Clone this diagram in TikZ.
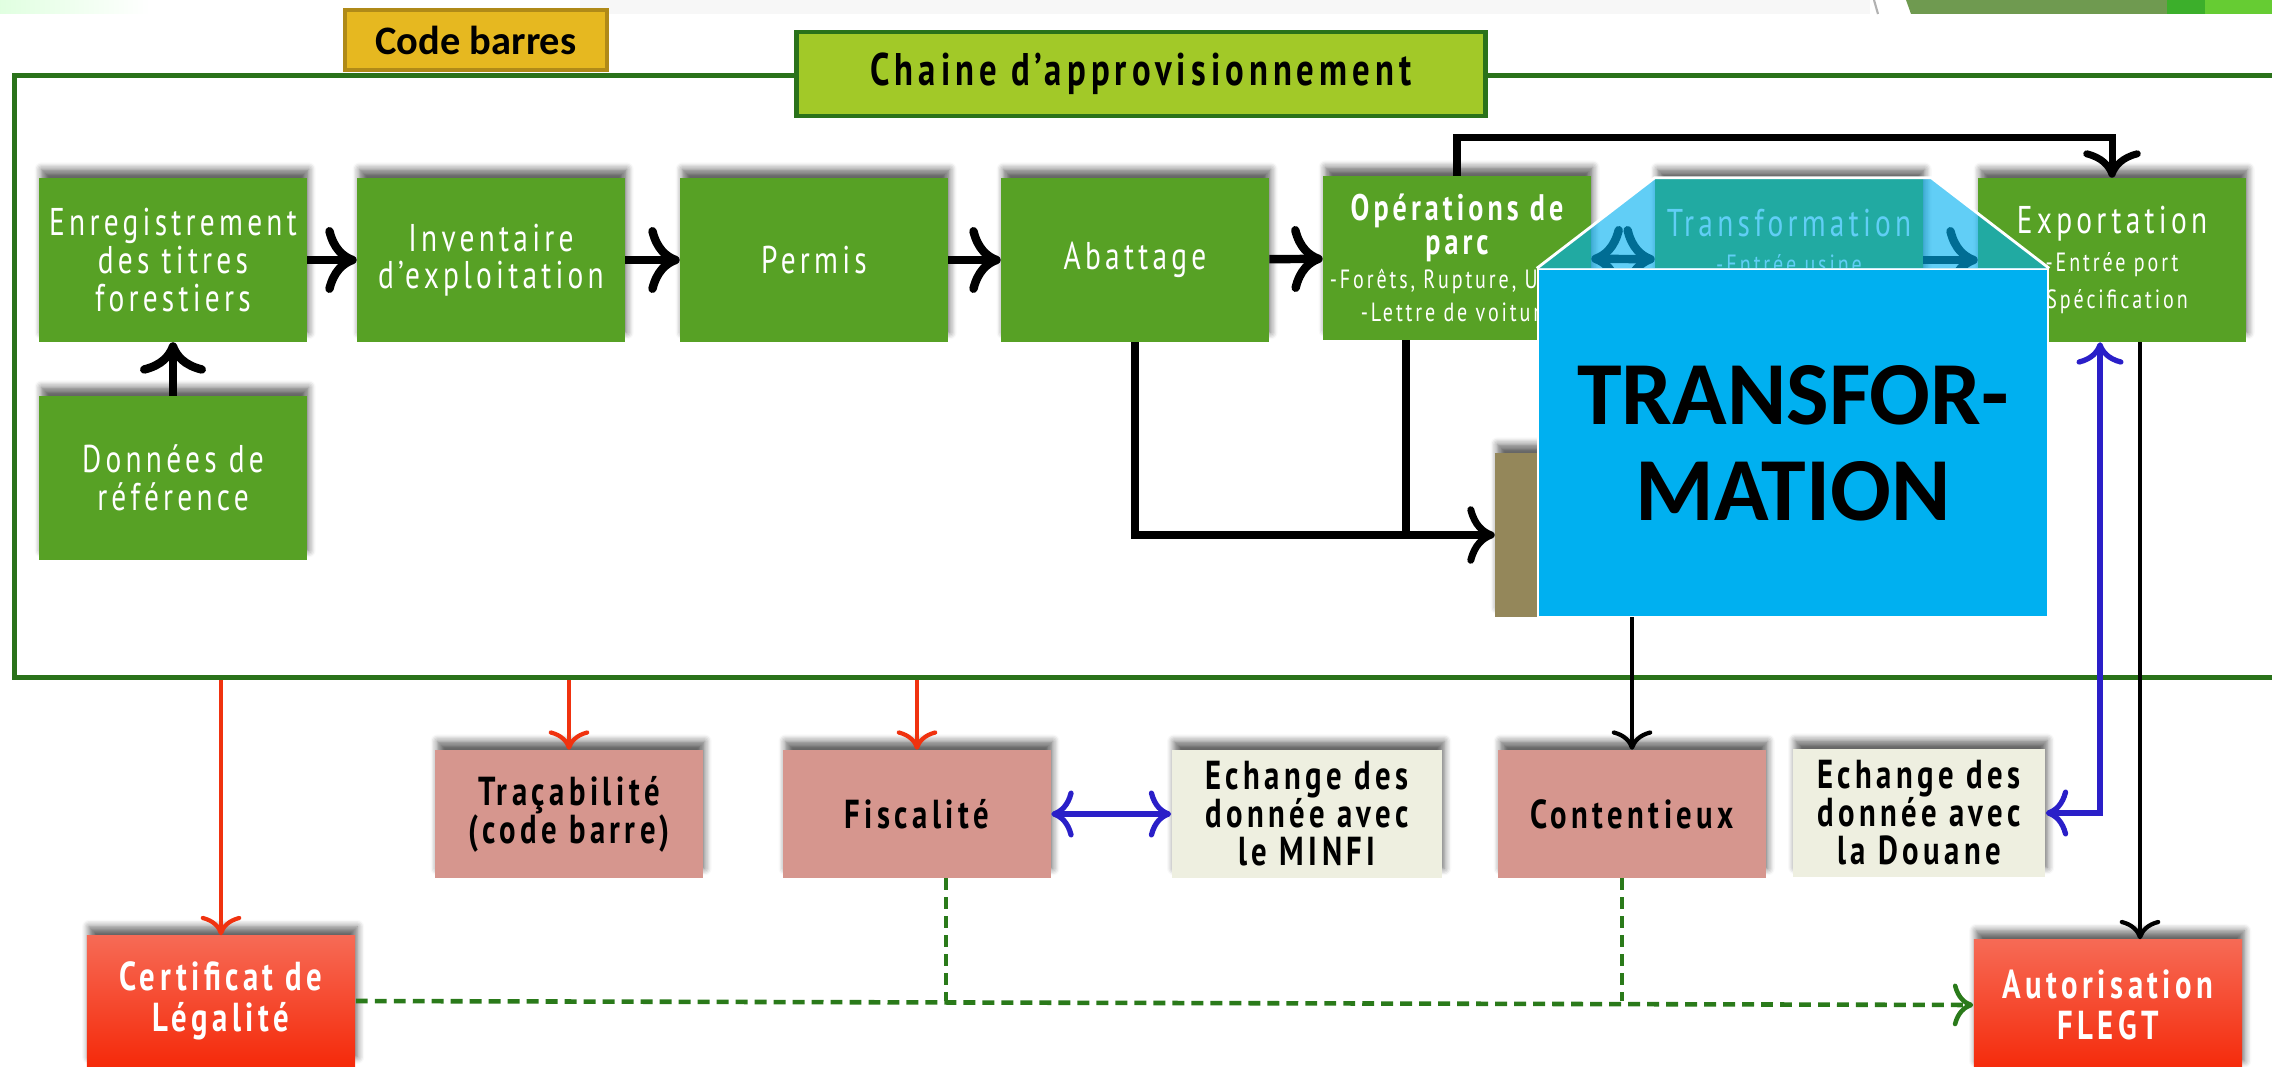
\documentclass[tikz,border=0pt]{standalone}
\usepackage{fontspec}
\setmainfont{PT Sans}
\newfontfamily\agency[FakeStretch=0.76,LetterSpace=11]{PT Sans}
\newfontfamily\calib{Carlito}
\usetikzlibrary{calc,positioning,arrows,arrows.meta,shadows.blur}

\definecolor{stagegreen}{HTML}{57A125}
\definecolor{framegreen}{HTML}{2A721A}
\definecolor{chaingreen}{HTML}{A2C928}
\definecolor{codegold}{HTML}{E6B820}
\definecolor{codeedge}{HTML}{B08A18}
\definecolor{rosefill}{HTML}{D6968E}
\definecolor{creamfill}{HTML}{EEEFE0}
\definecolor{ctlbrown}{HTML}{94875A}
\definecolor{overblue}{HTML}{00B0F0}
\definecolor{redtop}{HTML}{F66A55}
\definecolor{redbot}{HTML}{F52A0A}
\definecolor{arrowred}{HTML}{F0320F}
\definecolor{arrowblue}{HTML}{2A1FC8}
\definecolor{dashgreen}{HTML}{2A7A1A}
\definecolor{bannergreen}{HTML}{6F9A50}

\begin{document}
\begin{tikzpicture}[x=0.01cm,y=-0.01cm,>={To[scale=1.3]},
  topshadow/.style={blur shadow={shadow xshift=0.6pt,shadow yshift=2.6pt,shadow blur steps=6,shadow opacity=60}},
  stage/.style={fill=stagegreen,text=white,minimum width=2.67cm,minimum height=1.63cm,align=center,inner sep=1pt,topshadow,font=\agency\fontsize{11}{10.7}\selectfont},
  rosebox/.style={fill=rosefill,minimum width=2.67cm,minimum height=1.27cm,align=center,inner sep=1pt,topshadow,font=\agency\bfseries\fontsize{11.5}{10.8}\selectfont},
  creambox/.style={rosebox,fill=creamfill},
  redbox/.style={top color=redtop,bottom color=redbot,text=white,minimum width=2.68cm,minimum height=1.3cm,align=center,inner sep=1pt,topshadow,font=\agency\bfseries\fontsize{11.5}{11.5}\selectfont},
  flow/.style={->,line width=2.4pt},
  link/.style={->,line width=2pt},
  thinlink/.style={->,line width=1.2pt},
  redlink/.style={->,draw=arrowred,line width=1.2pt},
  bluelink/.style={<->,draw=arrowblue,line width=1.5pt},
  dashlink/.style={->,draw=dashgreen,line width=1.3pt,dash pattern=on 3.4pt off 2pt}]
\useasboundingbox (0,0) rectangle (2272,1067);

% bandeau du haut
\fill[left color=green!12!white,right color=white] (0,0) rectangle (150,14);
\fill[gray!6] (580,0) rectangle (1870,14);
\draw[gray!60,line width=0.6pt] (1874,0) -- (1878,14);
\fill[bannergreen] (1906,0) -- (2272,0) -- (2272,14) -- (1911,14) -- cycle;
\fill[green!40!bannergreen!90!black] (2167,0) rectangle (2205,14);
\fill[green!50!olive!80] (2205,0) rectangle (2272,14);

% cadre
\node[draw=framegreen,line width=1.3pt,minimum width=23.2cm,minimum height=6.02cm,anchor=north west,inner sep=0pt] (frm) at (12,73) {};
\node[fill=codegold,draw=codeedge,line width=1.2pt,minimum width=2.62cm,minimum height=0.6cm,inner sep=0pt,font=\calib\bfseries\fontsize{11.5}{12}\selectfont] (cod) at (476,40) {Code barres};
\node[fill=chaingreen,draw=framegreen,line width=1.4pt,minimum width=6.88cm,minimum height=0.84cm,inner sep=0pt,font=\agency\bfseries\fontsize{13}{12}\selectfont] (cha) at (1141,74) {Chaine d’approvisionnement};

% chaine
\node[stage] (enr) at (173,260) {Enregistrement\\des titres\\forestiers};
\node[stage] (inv) at (491,260) {Inventaire\\d’exploitation};
\node[stage] (per) at (814,260) {Permis};
\node[stage] (aba) at (1135,260) {Abattage};
\node[stage,font=\agency\fontsize{10.5}{9.6}\selectfont] (ope) at (1457,258) {{\bfseries Opérations de}\\{\bfseries parc}\\{\fontsize{7.5}{9}\selectfont -Forêts, Rupture, Usine}\\{\fontsize{7.5}{9}\selectfont -Lettre de voiture}};
\node[stage] (tra) at (1789,260) {Transformation\\{\fontsize{7.5}{8}\selectfont -Entrée usine}\\{\fontsize{7.5}{8}\selectfont ~}};
\node[stage] (exp) at (2112,260) {Exportation\\{\fontsize{7.5}{8}\selectfont -Entrée port}\\{\fontsize{7.5}{8}\selectfont -Spécification}};
\node[stage] (don) at (173,478) {Données de\\référence};
\node[fill=ctlbrown,minimum width=2.67cm,minimum height=1.63cm,topshadow] (ctl) at (1629,535) {};

\draw[flow] (enr) -- (inv);
\draw[flow] (inv) -- (per);
\draw[flow] (per) -- (aba);
\draw[flow] (aba) -- (ope);
\draw[flow,<->] (ope) -- (tra);
\draw[flow] (tra) -- (exp);
\draw[flow] (don) -- (enr);
\draw[link] (ope.north) -- ++(0,-38) -| (exp.north);
\draw[link] (aba.south) |- (ctl.west);
\draw[link,-] ($(ope.south)+(-51,0)$) coordinate (o1) -- (o1 |- ctl.west);

% transformation
\node[fill=overblue,draw=white,line width=0.6pt,minimum width=5.1cm,minimum height=3.47cm,align=center,inner sep=0pt,font=\calib\bfseries\fontsize{25.6}{27.3}\selectfont] (trf) at (1793,443) {TRANSFOR-\\MATION};
\fill[overblue,opacity=.62] (trf.north west) -- (tra.north west) -- ($(tra.north east)+(8,0)$) -- (trf.north east) -- cycle;
\draw[white,line width=0.8pt] (trf.north west) -- (tra.north west) -- ($(tra.north east)+(8,0)$) -- (trf.north east);

% sorties
\node[rosebox] (trc) at (569,814) {Traçabilité\\(code barre)};
\node[rosebox] (fis) at (917,814) {Fiscalité};
\node[creambox,minimum width=2.7cm] (mnf) at (1307,814) {Echange des\\donnée avec\\le MINFI};
\node[rosebox] (con) at (1632,814) {Contentieux};
\node[creambox,minimum width=2.52cm] (dou) at (1919,813) {Echange des\\donnée avec\\la Douane};
\node[redbox] (crt) at (221,1001) {Certificat de\\Légalité};
\node[redbox] (aut) at (2108,1005) {Autorisation\\FLEGT};

\draw[redlink] (crt.north |- frm.south) -- (crt.north);
\draw[redlink] (trc.north |- frm.south) -- (trc.north);
\draw[redlink] (fis.north |- frm.south) -- (fis.north);
\draw[thinlink] (con.north |- ctl.south) -- (con.north);
\draw[bluelink] (fis) -- (mnf);
\draw[bluelink] (dou.east) -| ($(exp.south)+(-12,0)$);
\draw[thinlink] ($(exp.south)+(28,0)$) coordinate (e1) -- (e1 |- aut.north);
\draw[dashlink] (crt.east) -- (aut.west);
\draw[dashlink,-] ($(fis.south)+(29,0)$) coordinate (f1) -- (f1 |- crt.east);
\draw[dashlink,-] ($(con.south)+(-10,0)$) coordinate (c1) -- (c1 |- crt.east);
\end{tikzpicture}
\end{document}
